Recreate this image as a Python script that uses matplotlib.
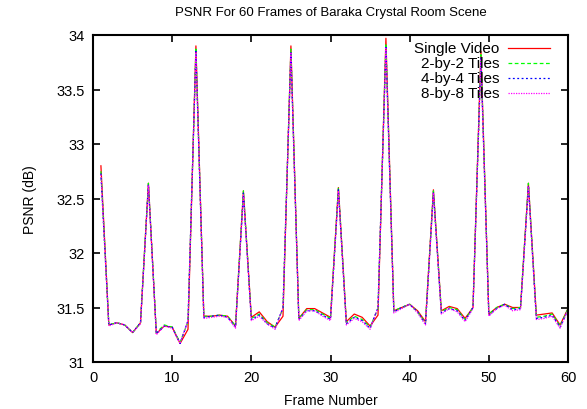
import matplotlib
matplotlib.use("Agg")
import matplotlib.pyplot as plt
from matplotlib.ticker import MultipleLocator

plt.rcParams['font.family'] = ['Liberation Sans', 'DejaVu Sans']

frames = list(range(1, 61))

single_video = [32.80, 31.34, 31.36, 31.34, 31.27, 31.36, 32.64, 31.26, 31.33, 31.32,
                31.17, 31.30, 33.90, 31.42, 31.42, 31.43, 31.42, 31.33, 32.57, 31.41,
                31.46, 31.37, 31.32, 31.42, 33.90, 31.40, 31.49, 31.49, 31.45, 31.41,
                32.60, 31.37, 31.44, 31.41, 31.33, 31.43, 33.97, 31.47, 31.50, 31.53,
                31.47, 31.37, 32.58, 31.47, 31.51, 31.49, 31.40, 31.50, 33.85, 31.44,
                31.50, 31.53, 31.50, 31.50, 32.64, 31.43, 31.44, 31.45, 31.34, 31.49]

tiles_2x2 = [32.75, 31.34, 31.36, 31.34, 31.27, 31.36, 32.64, 31.27, 31.34, 31.32,
             31.18, 31.37, 33.87, 31.42, 31.42, 31.43, 31.42, 31.33, 32.57, 31.40,
             31.44, 31.36, 31.32, 31.49, 33.87, 31.40, 31.48, 31.48, 31.44, 31.40,
             32.60, 31.36, 31.42, 31.39, 31.32, 31.49, 33.92, 31.47, 31.50, 31.53,
             31.46, 31.36, 32.57, 31.46, 31.50, 31.48, 31.39, 31.50, 33.82, 31.44,
             31.50, 31.53, 31.49, 31.50, 32.64, 31.41, 31.42, 31.44, 31.33, 31.49]

tiles_4x4 = [32.73, 31.34, 31.36, 31.34, 31.27, 31.36, 32.63, 31.26, 31.33, 31.32,
             31.17, 31.38, 33.85, 31.41, 31.42, 31.43, 31.41, 31.32, 32.55, 31.39,
             31.43, 31.35, 31.31, 31.50, 33.85, 31.39, 31.47, 31.47, 31.43, 31.39,
             32.58, 31.35, 31.41, 31.38, 31.31, 31.50, 33.90, 31.46, 31.50, 31.53,
             31.46, 31.35, 32.56, 31.45, 31.49, 31.47, 31.38, 31.50, 33.80, 31.43,
             31.49, 31.53, 31.48, 31.49, 32.62, 31.40, 31.41, 31.43, 31.32, 31.48]

tiles_8x8 = [32.72, 31.33, 31.36, 31.34, 31.27, 31.35, 32.62, 31.25, 31.33, 31.31,
             31.17, 31.38, 33.84, 31.40, 31.41, 31.42, 31.41, 31.31, 32.54, 31.38,
             31.42, 31.35, 31.30, 31.50, 33.84, 31.38, 31.47, 31.47, 31.42, 31.38,
             32.57, 31.34, 31.40, 31.37, 31.30, 31.50, 33.88, 31.45, 31.49, 31.53,
             31.45, 31.34, 32.55, 31.44, 31.49, 31.46, 31.37, 31.49, 33.78, 31.42,
             31.49, 31.52, 31.47, 31.48, 32.61, 31.39, 31.40, 31.42, 31.31, 31.48]

labels = ["Single Video", "2-by-2 Tiles", "4-by-4 Tiles", "8-by-8 Tiles"]
series = [single_video, tiles_2x2, tiles_4x4, tiles_8x8]
colors = ["#ff0000", "#00ff00", "#0000ff", "#ff00ff"]
styles = ["-", (0, (3, 2)), (0, (1.5, 2)), (0, (1, 1))]

fig = plt.figure(figsize=(5.87, 4.10), dpi=100)
ax = fig.add_axes([93/587, 1-363/410, 475/587, 327/410])

for s, c, ls in zip(series, colors, styles):
    ax.plot(frames, s, color=c, linestyle=ls, linewidth=0.9)

ax.set_xlim(0, 60)
ax.set_ylim(31, 34)
ax.xaxis.set_major_locator(MultipleLocator(10))
ax.yaxis.set_major_locator(MultipleLocator(0.5))
ax.yaxis.set_major_formatter(matplotlib.ticker.FuncFormatter(lambda v, p: f"{v:g}"))
ax.tick_params(direction='in', top=True, right=True, length=5, width=1.2,
               labelsize=10.5, pad=6)
for sp in ax.spines.values():
    sp.set_linewidth(1.5)

ax.set_xlabel("Frame Number", fontsize=10, labelpad=6)
ax.set_ylabel("PSNR (dB)", fontsize=10, labelpad=14)
fig.text(0.5 * (93 + 568) / 587, 1 - 13/410, "PSNR For 60 Frames of Baraka Crystal Room Scene",
         ha='center', va='center', fontsize=9.5)

# key (gnuplot style: text right-aligned, sample to the right)
y0 = 1 - (49 - 36) / 327
dy = 15 / 327
for i, (lab, c, ls) in enumerate(zip(labels, colors, styles)):
    yy = y0 - i * dy
    ax.text(0.855, yy, lab, ha='right', va='center', fontsize=11, transform=ax.transAxes)
    ax.plot([0.874, 0.962], [yy, yy], color=c, linestyle=ls, linewidth=0.9,
            transform=ax.transAxes)

fig.savefig("out.png", dpi=100)
